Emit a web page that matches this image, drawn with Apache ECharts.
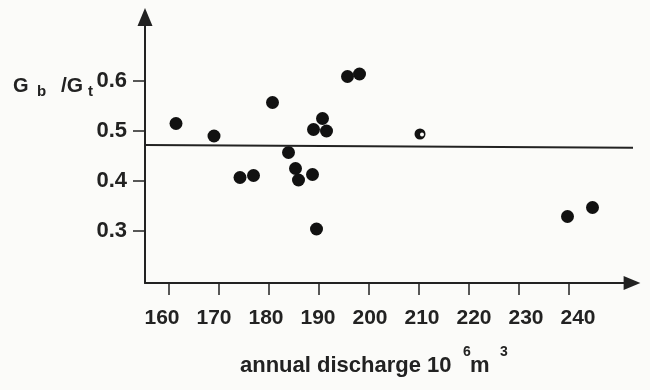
<!DOCTYPE html>
<html><head><meta charset="utf-8">
<script src="https://cdn.jsdelivr.net/npm/echarts@6/dist/echarts.min.js"></script>
<style>html,body{margin:0;padding:0;background:#fbfbf9;}#c{width:650px;height:390px;}</style>
</head><body><div id="c"></div>
<script>
// annual discharge (10^6 m^3) and Gb/Gt ratio
const discharge = [161.4, 169.0, 174.2, 176.9, 180.7, 183.9, 185.3, 185.9, 188.7, 188.9, 189.5, 190.7, 191.5, 195.7, 198.1, 244.7, 239.7];
const ratio     = [0.515, 0.490, 0.407, 0.411, 0.557, 0.457, 0.425, 0.402, 0.413, 0.503, 0.304, 0.525, 0.500, 0.609, 0.614, 0.347, 0.329];
const openX = [210.2];
const openY = [0.494];
const meanLineX = [155.2, 254.2];
const meanLineY = [0.472, 0.4666];
const xTicks = [160, 170, 180, 190, 200, 210, 220, 230, 240];
const yTicks = [0.3, 0.4, 0.5, 0.6];

const ink = '#222';
const font = 'Liberation Sans, Arial, sans-serif';
const tri = 'path://M0,0L15,36L-15,36Z';
const txt = (t, left, top, size) => ({ type: 'text', left, top, style: { text: t, fontSize: size, fontWeight: 'bold', fill: ink, fontFamily: font } });
const chart = echarts.init(document.getElementById('c'));
chart.setOption({
  backgroundColor: '#fbfbf9',
  animation: false,
  grid: { left: 145, right: 18, top: 17, bottom: 107 },
  xAxis: [{
    type: 'value', min: 155.2, max: 252.6,
    axisLine: { show: true, onZero: false, lineStyle: { color: ink, width: 2 }, symbol: ['none', tri], symbolSize: [14, 20] },
    axisTick: { show: true, length: 12, customValues: xTicks, lineStyle: { color: ink, width: 1.5 } },
    axisLabel: { show: false },
    splitLine: { show: false }
  }, {
    type: 'value', min: 156.73, max: 250.38, position: 'bottom',
    axisLine: { show: false }, axisTick: { show: false }, splitLine: { show: false },
    axisLabel: { show: true, customValues: xTicks, margin: 25, fontSize: 21, fontWeight: 'bold', color: ink, fontFamily: font }
  }],
  yAxis: {
    type: 'value', min: 0.196, max: 0.728,
    axisLine: { show: true, onZero: false, lineStyle: { color: ink, width: 2 }, symbol: ['none', tri], symbolSize: [15, 18] },
    axisTick: { show: true, length: 12, customValues: yTicks, lineStyle: { color: ink, width: 1.5 } },
    axisLabel: { show: true, customValues: yTicks, margin: 18, fontSize: 22, fontWeight: 'bold', color: ink, fontFamily: font, formatter: v => v.toFixed(1) },
    splitLine: { show: false }
  },
  series: [{
    type: 'line', xAxisIndex: 0, clip: false, symbol: 'none',
    lineStyle: { color: ink, width: 2 },
    data: meanLineX.map((x, i) => [x, meanLineY[i]])
  }, {
    type: 'scatter', xAxisIndex: 0, symbolSize: 13,
    itemStyle: { color: '#111', opacity: 1 },
    data: discharge.map((x, i) => [x, ratio[i]])
  }, {
    type: 'scatter', xAxisIndex: 0, symbolSize: 11,
    itemStyle: { color: '#111', opacity: 1 },
    data: openX.map((x, i) => [x, openY[i]])
  }, {
    type: 'scatter', xAxisIndex: 0, symbolSize: 4, symbolOffset: [2, 0.5],
    itemStyle: { color: '#fbfbf9', opacity: 1 },
    data: openX.map((x, i) => [x, openY[i]])
  }],
  graphic: [
    txt('G', 13, 76, 20),
    txt('b', 37, 84, 15),
    txt('/G', 61, 76, 21),
    txt('t', 88, 84, 15),
    txt('annual discharge 10', 240, 355, 22),
    txt('6', 463, 345, 14),
    txt('m', 470, 355, 22),
    txt('3', 500, 345, 14)
  ]
});
</script></body></html>
